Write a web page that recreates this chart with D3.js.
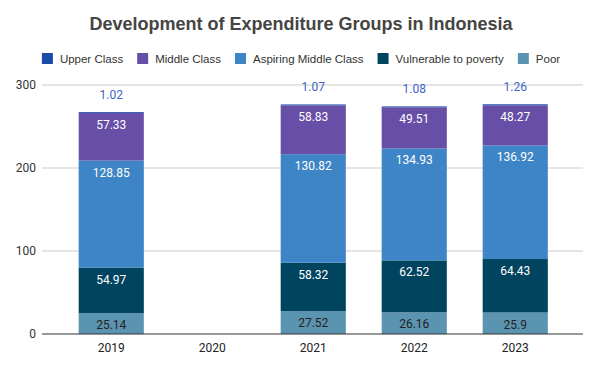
<!DOCTYPE html>
<html>
<head>
    <meta charset="utf-8">
    <style>
        body { margin: 0; background: #fff; }
        svg { display: block; }
    </style>
</head>
<body>
    <svg width="602" height="372"></svg>
    <script src="https://d3js.org/d3.v7.min.js"></script>
    <script>
        // data
        let years = ["2019", "2020", "2021", "2022", "2023"]
        let groups = ["Upper Class", "Middle Class", "Aspiring Middle Class", "Vulnerable to poverty", "Poor"]
        let poor = [25.14, null, 27.52, 26.16, 25.9]
        let vulnerable = [54.97, null, 58.32, 62.52, 64.43]
        let aspiring = [128.85, null, 130.82, 134.93, 136.92]
        let middle = [57.33, null, 58.83, 49.51, 48.27]
        let upper = [1.02, null, 1.07, 1.08, 1.26]
        let yTicks = [0, 100, 200, 300]

        let colors = {
            "Upper Class": "#1c4aa8",
            "Middle Class": "#674ea7",
            "Aspiring Middle Class": "#3d85c6",
            "Vulnerable to poverty": "#01445f",
            "Poor": "#5b94b0"
        }

        // stacking order bottom -> top
        let stackKeys = ["Poor", "Vulnerable to poverty", "Aspiring Middle Class", "Middle Class", "Upper Class"]
        let rows = years.map((y, i) => ({
            year: y,
            "Poor": poor[i],
            "Vulnerable to poverty": vulnerable[i],
            "Aspiring Middle Class": aspiring[i],
            "Middle Class": middle[i],
            "Upper Class": upper[i]
        }))

        let svg = d3.select("svg")

        let x = d3.scaleBand()
            .domain(years)
            .range([60.5, 566])
            .paddingInner(0.355)
            .paddingOuter(0.18)

        let y = d3.scaleLinear()
            .domain([0, 300])
            .range([334, 85])

        let gridLeft = 42, gridRight = 583

        // title
        svg.append("text")
            .attr("x", 301)
            .attr("y", 30)
            .attr("text-anchor", "middle")
            .style("font-family", "'Liberation Sans', Arial, sans-serif")
            .style("font-weight", "bold")
            .style("font-size", "18px")
            .style("fill", "#444")
            .text("Development of Expenditure Groups in Indonesia")

        // gridlines
        svg.selectAll(".grid")
            .data(yTicks.filter(d => d > 0))
            .join("line")
            .attr("x1", gridLeft)
            .attr("x2", gridRight)
            .attr("y1", d => y(d))
            .attr("y2", d => y(d))
            .style("stroke", "#dcdcdc")
            .style("stroke-width", 1.3)

        // y labels
        svg.selectAll(".ylab")
            .data(yTicks)
            .join("text")
            .attr("x", 36)
            .attr("y", d => y(d) + 4)
            .attr("text-anchor", "end")
            .style("font-family", "Roboto, sans-serif")
            .style("font-size", "12px")
            .style("fill", "#333")
            .text(d => d)

        // stacked bars
        let stacked = d3.stack()
            .keys(stackKeys)
            .value((d, k) => d[k] || 0)(rows)

        let layers = svg.append("g")
            .selectAll("g")
            .data(stacked)
            .join("g")
            .style("fill", d => colors[d.key])

        layers.selectAll("rect")
            .data(d => d.filter(p => p.data[d.key] != null))
            .join("rect")
            .attr("x", d => x(d.data.year))
            .attr("width", x.bandwidth())
            .attr("y", d => y(d[1]))
            .attr("height", d => y(d[0]) - y(d[1]))

        // labels
        stacked.forEach(layer => {
            let k = layer.key
            let pts = layer.filter(p => p.data[k] != null)
            svg.append("g")
                .selectAll("text")
                .data(pts)
                .join("text")
                .attr("x", d => x(d.data.year) + x.bandwidth() / 2)
                .attr("y", d => k == "Upper Class" ? y(d[1]) - 13 : y(d[1]) + 16)
                .attr("text-anchor", "middle")
                .style("font-family", "Roboto, sans-serif")
                .style("font-size", "12px")
                .style("fill", k == "Upper Class" ? "#3b64c4" : (k == "Poor" ? "#222" : "#fff"))
                .text(d => d.data[k])
        })

        // baseline
        svg.append("line")
            .attr("x1", gridLeft)
            .attr("x2", gridRight)
            .attr("y1", y(0))
            .attr("y2", y(0))
            .style("stroke", "#333")
            .style("stroke-width", 1)

        // x labels
        svg.selectAll(".xlab")
            .data(years)
            .join("text")
            .attr("x", d => x(d) + x.bandwidth() / 2)
            .attr("y", 352)
            .attr("text-anchor", "middle")
            .style("font-family", "Roboto, sans-serif")
            .style("font-size", "12px")
            .style("fill", "#222")
            .text(d => d)

        // legend
        let legend = svg.append("g")
        let lx = 0
        groups.forEach(g => {
            let item = legend.append("g").attr("transform", `translate(${lx},0)`)
            item.append("rect")
                .attr("width", 11)
                .attr("height", 11)
                .attr("y", -10)
                .style("fill", colors[g])
            let t = item.append("text")
                .attr("x", 18)
                .attr("y", 0)
                .style("font-family", "'Liberation Sans', Arial, sans-serif")
                .style("font-size", "11.5px")
                .style("fill", "#333")
                .text(g)
            lx += 18 + t.node().getComputedTextLength() + 14
        })
        let lw = lx - 14
        legend.attr("transform", `translate(${301 - lw / 2},63)`)
    </script>
</body>
</html>
